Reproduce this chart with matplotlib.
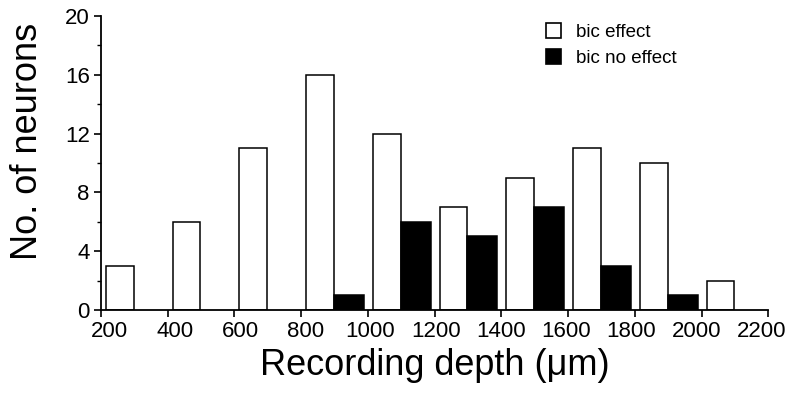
import numpy as np
import matplotlib
matplotlib.use("Agg")
import matplotlib.pyplot as plt
import matplotlib.transforms as mtransforms
from matplotlib.patches import Rectangle
from matplotlib.ticker import MultipleLocator

plt.rcParams['font.family'] = ['Liberation Sans', 'DejaVu Sans']

# depth bins (bin start, um) and neuron counts
effect_depth = [200, 400, 600, 800, 1000, 1200, 1400, 1600, 1800, 2000]
effect_count = [3, 6, 11, 16, 12, 7, 9, 11, 10, 2]
noeffect_depth = [900, 1100, 1300, 1500, 1700, 1900]
noeffect_count = [1, 6, 5, 7, 3, 1]

fig = plt.figure(figsize=(7.88, 4.03), dpi=100)
ax = fig.add_axes([0.128, 0.231, 0.847, 0.729])

ax.bar(np.array(effect_depth) + 15, effect_count, width=83, align='edge',
       facecolor='white', edgecolor='black', linewidth=1.1)
ax.bar(np.array(noeffect_depth) - 2, noeffect_count, width=90, align='edge',
       facecolor='black', edgecolor='black', linewidth=1.1)

ax.set_xlim(200, 2200)
ax.set_ylim(0, 20)
ax.set_xticks(np.arange(200, 2201, 200))
ax.yaxis.set_major_locator(MultipleLocator(4))
ax.yaxis.set_minor_locator(MultipleLocator(2))
ax.spines['top'].set_visible(False)
ax.spines['right'].set_visible(False)
for s in ['left', 'bottom']:
    ax.spines[s].set_linewidth(1.3)
ax.tick_params(axis='both', which='major', labelsize=16, width=1.2, length=5, pad=3)
ax.tick_params(axis='y', which='minor', width=1.0, length=3)

# x tick labels sit slightly squeezed inward as in the print
labels = ax.get_xticklabels()
n = len(labels)
for i, lab in enumerate(labels):
    dx = (9 - i * 16.0 / (n - 1)) / 100.0
    lab.set_transform(lab.get_transform() + mtransforms.ScaledTranslation(dx, 0, fig.dpi_scale_trans))

ax.set_xlabel('Recording depth (\u03bcm)', fontsize=26, labelpad=4)
ax.set_ylabel('No. of neurons', fontsize=26)
ax.yaxis.set_label_coords(-0.083, 0.572)

handles = [Rectangle((0, 0), 1, 1, facecolor='white', edgecolor='black', linewidth=1.2),
           Rectangle((0, 0), 1, 1, facecolor='black', edgecolor='black', linewidth=1.2)]
fig.legend(handles, ['bic effect', 'bic no effect'], loc='upper left',
           bbox_to_anchor=(0.672, 0.985), frameon=False, fontsize=13.5,
           handlelength=0.8, handleheight=0.85, handletextpad=0.8, labelspacing=0.45)

fig.savefig('out.png', dpi=100)
